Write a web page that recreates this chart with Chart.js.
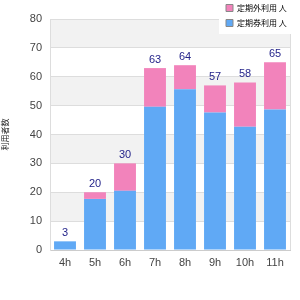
<!DOCTYPE html>
<html>
<head>
<meta charset="utf-8">
<script src="https://cdn.jsdelivr.net/npm/chart.js@4/dist/chart.umd.min.js"></script>
<style>
html,body{margin:0;padding:0;background:#fff;}
#wrap{width:300px;height:300px;position:relative;}
</style>
</head>
<body>
<div id="wrap"><canvas id="c" width="300" height="300"></canvas></div>
<script>
const categories = ['4h','5h','6h','7h','8h','9h','10h','11h'];
const blueValues = [3, 17.7, 20.5, 49.6, 55.7, 47.6, 42.7, 48.7];
const pinkValues = [0, 2.3, 9.5, 13.4, 8.3, 9.4, 15.3, 16.3];
const blueLabel = '定期券利用 人';
const pinkLabel = '定期外利用 人';
const yTitle = '利用者数';
const yTicks = [0,10,20,30,40,50,60,70,80];

const bandsPlugin = {
  id: 'bands',
  beforeDraw(chart) {
    const {ctx, chartArea: a, scales: {y}} = chart;
    ctx.save();
    ctx.fillStyle = '#f2f2f2';
    for (let v = 10; v < 80; v += 20) {
      const top = y.getPixelForValue(v + 10), bot = y.getPixelForValue(v);
      ctx.fillRect(a.left, top, a.right - a.left, bot - top);
    }
    ctx.restore();
  },
  afterLayout(chart) {
    const lg = chart.legend;
    if (!lg) return;
    const w = lg.width, h = lg.height;
    lg.left = 219; lg.right = 219 + w; lg.top = -3; lg.bottom = -3 + h;
  },
  afterDatasetsDraw(chart) {
    const {ctx, chartArea: a} = chart;
    ctx.save();
    ctx.strokeStyle = '#dddddd';
    ctx.lineWidth = 1;
    ctx.beginPath();
    ctx.moveTo(Math.round(a.right) + 0.5, a.top);
    ctx.lineTo(Math.round(a.right) + 0.5, a.bottom);
    ctx.stroke();
    const m0 = chart.getDatasetMeta(0), m1 = chart.getDatasetMeta(1);
    ctx.fillStyle = '#24248a';
    ctx.font = '11px "Liberation Sans", Arial, sans-serif';
    ctx.textAlign = 'center';
    ctx.textBaseline = 'bottom';
    categories.forEach((c, i) => {
      const total = blueValues[i] + pinkValues[i];
      const el = pinkValues[i] > 0 ? m1.data[i] : m0.data[i];
      ctx.fillText(String(Math.round(total)), el.x, el.y - 3);
    });
    ctx.fillStyle = '#ffffff';
    ctx.fillRect(219, 0, 81, 34);
    ctx.restore();
    chart.legend.draw();
  }
};

const chart = new Chart(document.getElementById('c'), {
  type: 'bar',
  data: {
    labels: categories,
    datasets: [
      { label: blueLabel, data: blueValues, backgroundColor: '#60a9f5', borderWidth: 0, barPercentage: 0.73, categoryPercentage: 1 },
      { label: pinkLabel, data: pinkValues, backgroundColor: '#f283bb', borderWidth: 0, barPercentage: 0.73, categoryPercentage: 1 }
    ]
  },
  options: {
    responsive: false,
    animation: false,
    devicePixelRatio: 1,
    layout: { padding: { top: 19, right: 10, left: 0, bottom: 0 } },
    plugins: {
      tooltip: { enabled: false },
      legend: {
        position: 'chartArea',
        align: 'start',
        reverse: true,
        labels: {
          boxWidth: 7,
          boxHeight: 7,
          padding: 7,
          color: '#000',
          font: { size: 8, family: '"Noto Sans CJK JP", sans-serif' },
          generateLabels(chart) {
            const items = Chart.defaults.plugins.legend.labels.generateLabels(chart);
            items.forEach(it => { it.strokeStyle = '#888888'; it.lineWidth = 1; });
            return items;
          }
        }
      }
    },
    scales: {
      x: {
        stacked: true,
        grid: { display: false, drawTicks: false },
        border: { display: true, color: '#cccccc' },
        ticks: { color: '#444', padding: 6, font: { size: 11, family: '"Liberation Sans", Arial, sans-serif' } },
        afterFit(s) { s.height = 50; }
      },
      y: {
        stacked: true,
        min: 0, max: 80,
        afterBuildTicks(s) { s.ticks = yTicks.map(v => ({ value: v })); },
        grid: { color: '#dddddd', drawTicks: false },
        border: { display: true, color: '#dddddd' },
        ticks: { color: '#444', padding: 8, font: { size: 11, family: '"Liberation Sans", Arial, sans-serif' } },
        title: { display: true, text: yTitle, color: '#222', padding: { top: 0, bottom: 0 }, font: { size: 8, family: '"Noto Sans CJK JP", sans-serif' } },
        afterFit(s) { s.width = 50; }
      }
    }
  },
  plugins: [bandsPlugin]
});
</script>
</body>
</html>
